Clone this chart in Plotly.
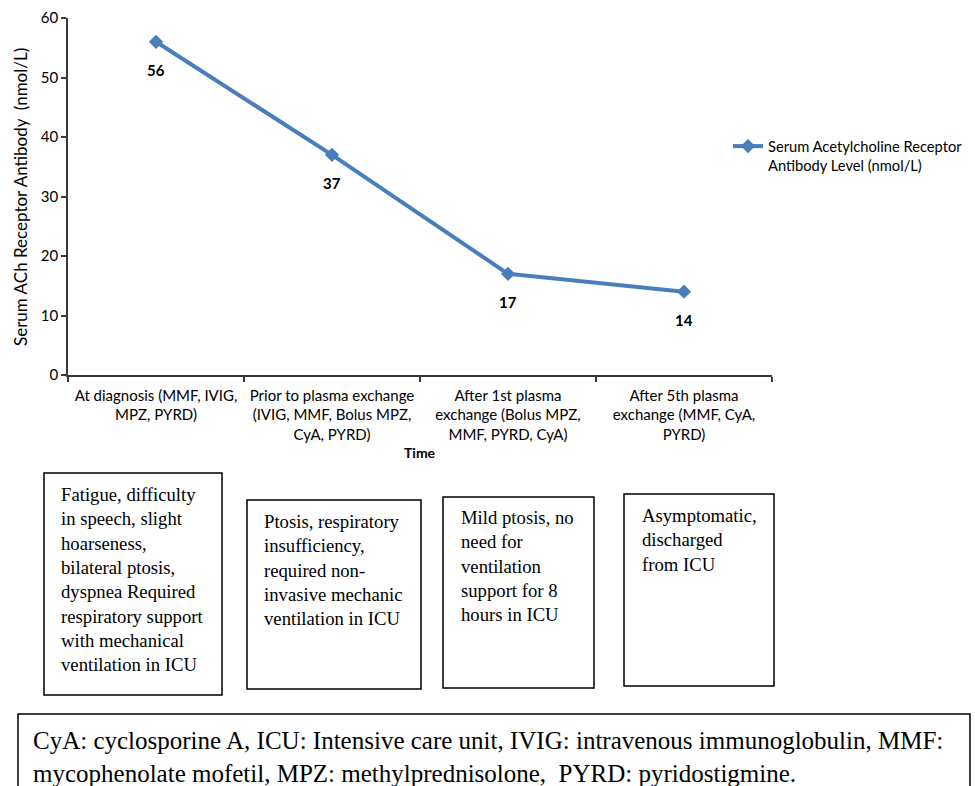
import plotly.graph_objects as go

# ---- data ----
categories = [
    "At diagnosis (MMF, IVIG,<br>MPZ, PYRD)",
    "Prior to plasma exchange<br>(IVIG, MMF, Bolus MPZ,<br>CyA, PYRD)",
    "After 1st plasma<br>exchange (Bolus MPZ,<br>MMF, PYRD, CyA)",
    "After 5th plasma<br>exchange (MMF, CyA,<br>PYRD)",
]
antibody_levels = [56, 37, 17, 14]
series_name = "Serum Acetylcholine Receptor<br>Antibody Level (nmol/L)"
y_title = "Serum ACh Receptor Antibody\u00a0 (nmol/L)"
x_title = "Time"
y_ticks = [0, 10, 20, 30, 40, 50, 60]

box_texts = [
    ["Fatigue, difficulty", "in speech, slight", "hoarseness,", "bilateral ptosis,",
     "dyspnea Required", "respiratory support", "with mechanical", "ventilation in ICU"],
    ["Ptosis, respiratory", "insufficiency,", "required non-", "invasive mechanic",
     "ventilation in ICU"],
    ["Mild ptosis, no", "need for", "ventilation", "support for 8", "hours in ICU"],
    ["Asymptomatic,", "discharged", "from ICU"],
]
footer_lines = [
    "CyA: cyclosporine A, ICU: Intensive care unit, IVIG: intravenous immunoglobulin, MMF:",
    "mycophenolate mofetil, MPZ: methylprednisolone,\u00a0 PYRD: pyridostigmine.",
]

# ---- layout helpers (pixel -> paper) ----
FW, FH = 975, 786
L, R, T, B = 68, 772, 18, 375
PW, PH = R - L, B - T


def px(x):
    return (x - L) / PW


def py(y):
    return (B - y) / PH


BLUE = "#4a7ebb"
AXIS = "#3a3a3a"
SANS = "Lato, 'Open Sans', sans-serif"
SERIF = "'Liberation Serif', 'Times New Roman', serif"

fig = go.Figure()
fig.add_trace(go.Scatter(
    x=categories, y=antibody_levels, mode="lines+markers", name=series_name,
    line=dict(color=BLUE, width=4),
    marker=dict(symbol="diamond", size=11, color=BLUE),
    showlegend=True,
))

annotations = []
for c, v in zip(categories, antibody_levels):
    annotations.append(dict(x=c, y=v, xref="x", yref="y", text=f"<b>{v}</b>",
                            showarrow=False, yshift=-28,
                            font=dict(family=SANS, size=15, color="black")))

annotations.append(dict(x=px(420), y=py(463), xref="paper", yref="paper",
                        text=f"<b>{x_title}</b>", showarrow=False,
                        font=dict(family=SANS, size=14, color="black")))
annotations.append(dict(x=px(20), y=py(197), xref="paper", yref="paper",
                        text=y_title, showarrow=False, textangle=-90,
                        xanchor="center", yanchor="middle",
                        font=dict(family=SANS, size=17, color="black")))

shapes = []
boxes = [(44, 473, 222, 695), (247, 500, 421, 689), (443, 497, 594, 688), (624, 494, 774, 686)]
text_pos = [(59, 579), (262, 570), (459, 566), (640, 540)]
for (x0, y0, x1, y1), (tx, ty), lines in zip(boxes, text_pos, box_texts):
    shapes.append(dict(type="rect", xref="paper", yref="paper",
                       x0=px(x0), x1=px(x1), y0=py(y0), y1=py(y1),
                       line=dict(color="black", width=1.5)))
    annotations.append(dict(x=px(tx), y=py(ty), xref="paper", yref="paper",
                            text="<br>".join(lines), showarrow=False,
                            xanchor="left", yanchor="middle", align="left",
                            font=dict(family=SERIF, size=18.7, color="black")))

shapes.append(dict(type="rect", xref="paper", yref="paper",
                   x0=px(18), x1=px(970), y0=py(714), y1=py(800),
                   line=dict(color="black", width=1.5)))
annotations.append(dict(x=px(31), y=py(757), xref="paper", yref="paper",
                        text="<br>".join(footer_lines), showarrow=False,
                        xanchor="left", yanchor="middle", align="left",
                        font=dict(family=SERIF, size=25, color="black")))

fig.update_layout(
    width=FW, height=FH, autosize=False,
    margin=dict(l=L, r=FW - R, t=T, b=FH - B, pad=0, autoexpand=False),
    paper_bgcolor="white", plot_bgcolor="white",
    font=dict(family=SANS, size=15, color="black"),
    showlegend=True,
    legend=dict(x=px(728), y=py(130), xanchor="left", yanchor="top",
                valign="top", bgcolor="rgba(0,0,0,0)",
                font=dict(family=SANS, size=14.7, color="black")),
    xaxis=dict(type="category", range=[-0.5, 3.5], tickson="boundaries",
               ticks="outside", ticklen=5, tickangle=0,
               tickcolor=AXIS, tickwidth=1.5, showline=True, linecolor=AXIS, linewidth=1.5,
               showgrid=False, zeroline=False, ticklabelstandoff=6,
               tickfont=dict(family=SANS, size=15, color="black")),
    yaxis=dict(range=[0, 60], tickvals=y_ticks, ticks="outside", ticklen=5,
               tickcolor=AXIS, tickwidth=1.5, showline=True, linecolor=AXIS, linewidth=1.5,
               showgrid=False, zeroline=False,
               tickfont=dict(family=SANS, size=15, color="black")),
    annotations=annotations, shapes=shapes,
)

fig.write_html("out.html", config={"displayModeBar": False},
               post_script="document.body.style.margin='0';document.body.style.overflow='hidden';")
